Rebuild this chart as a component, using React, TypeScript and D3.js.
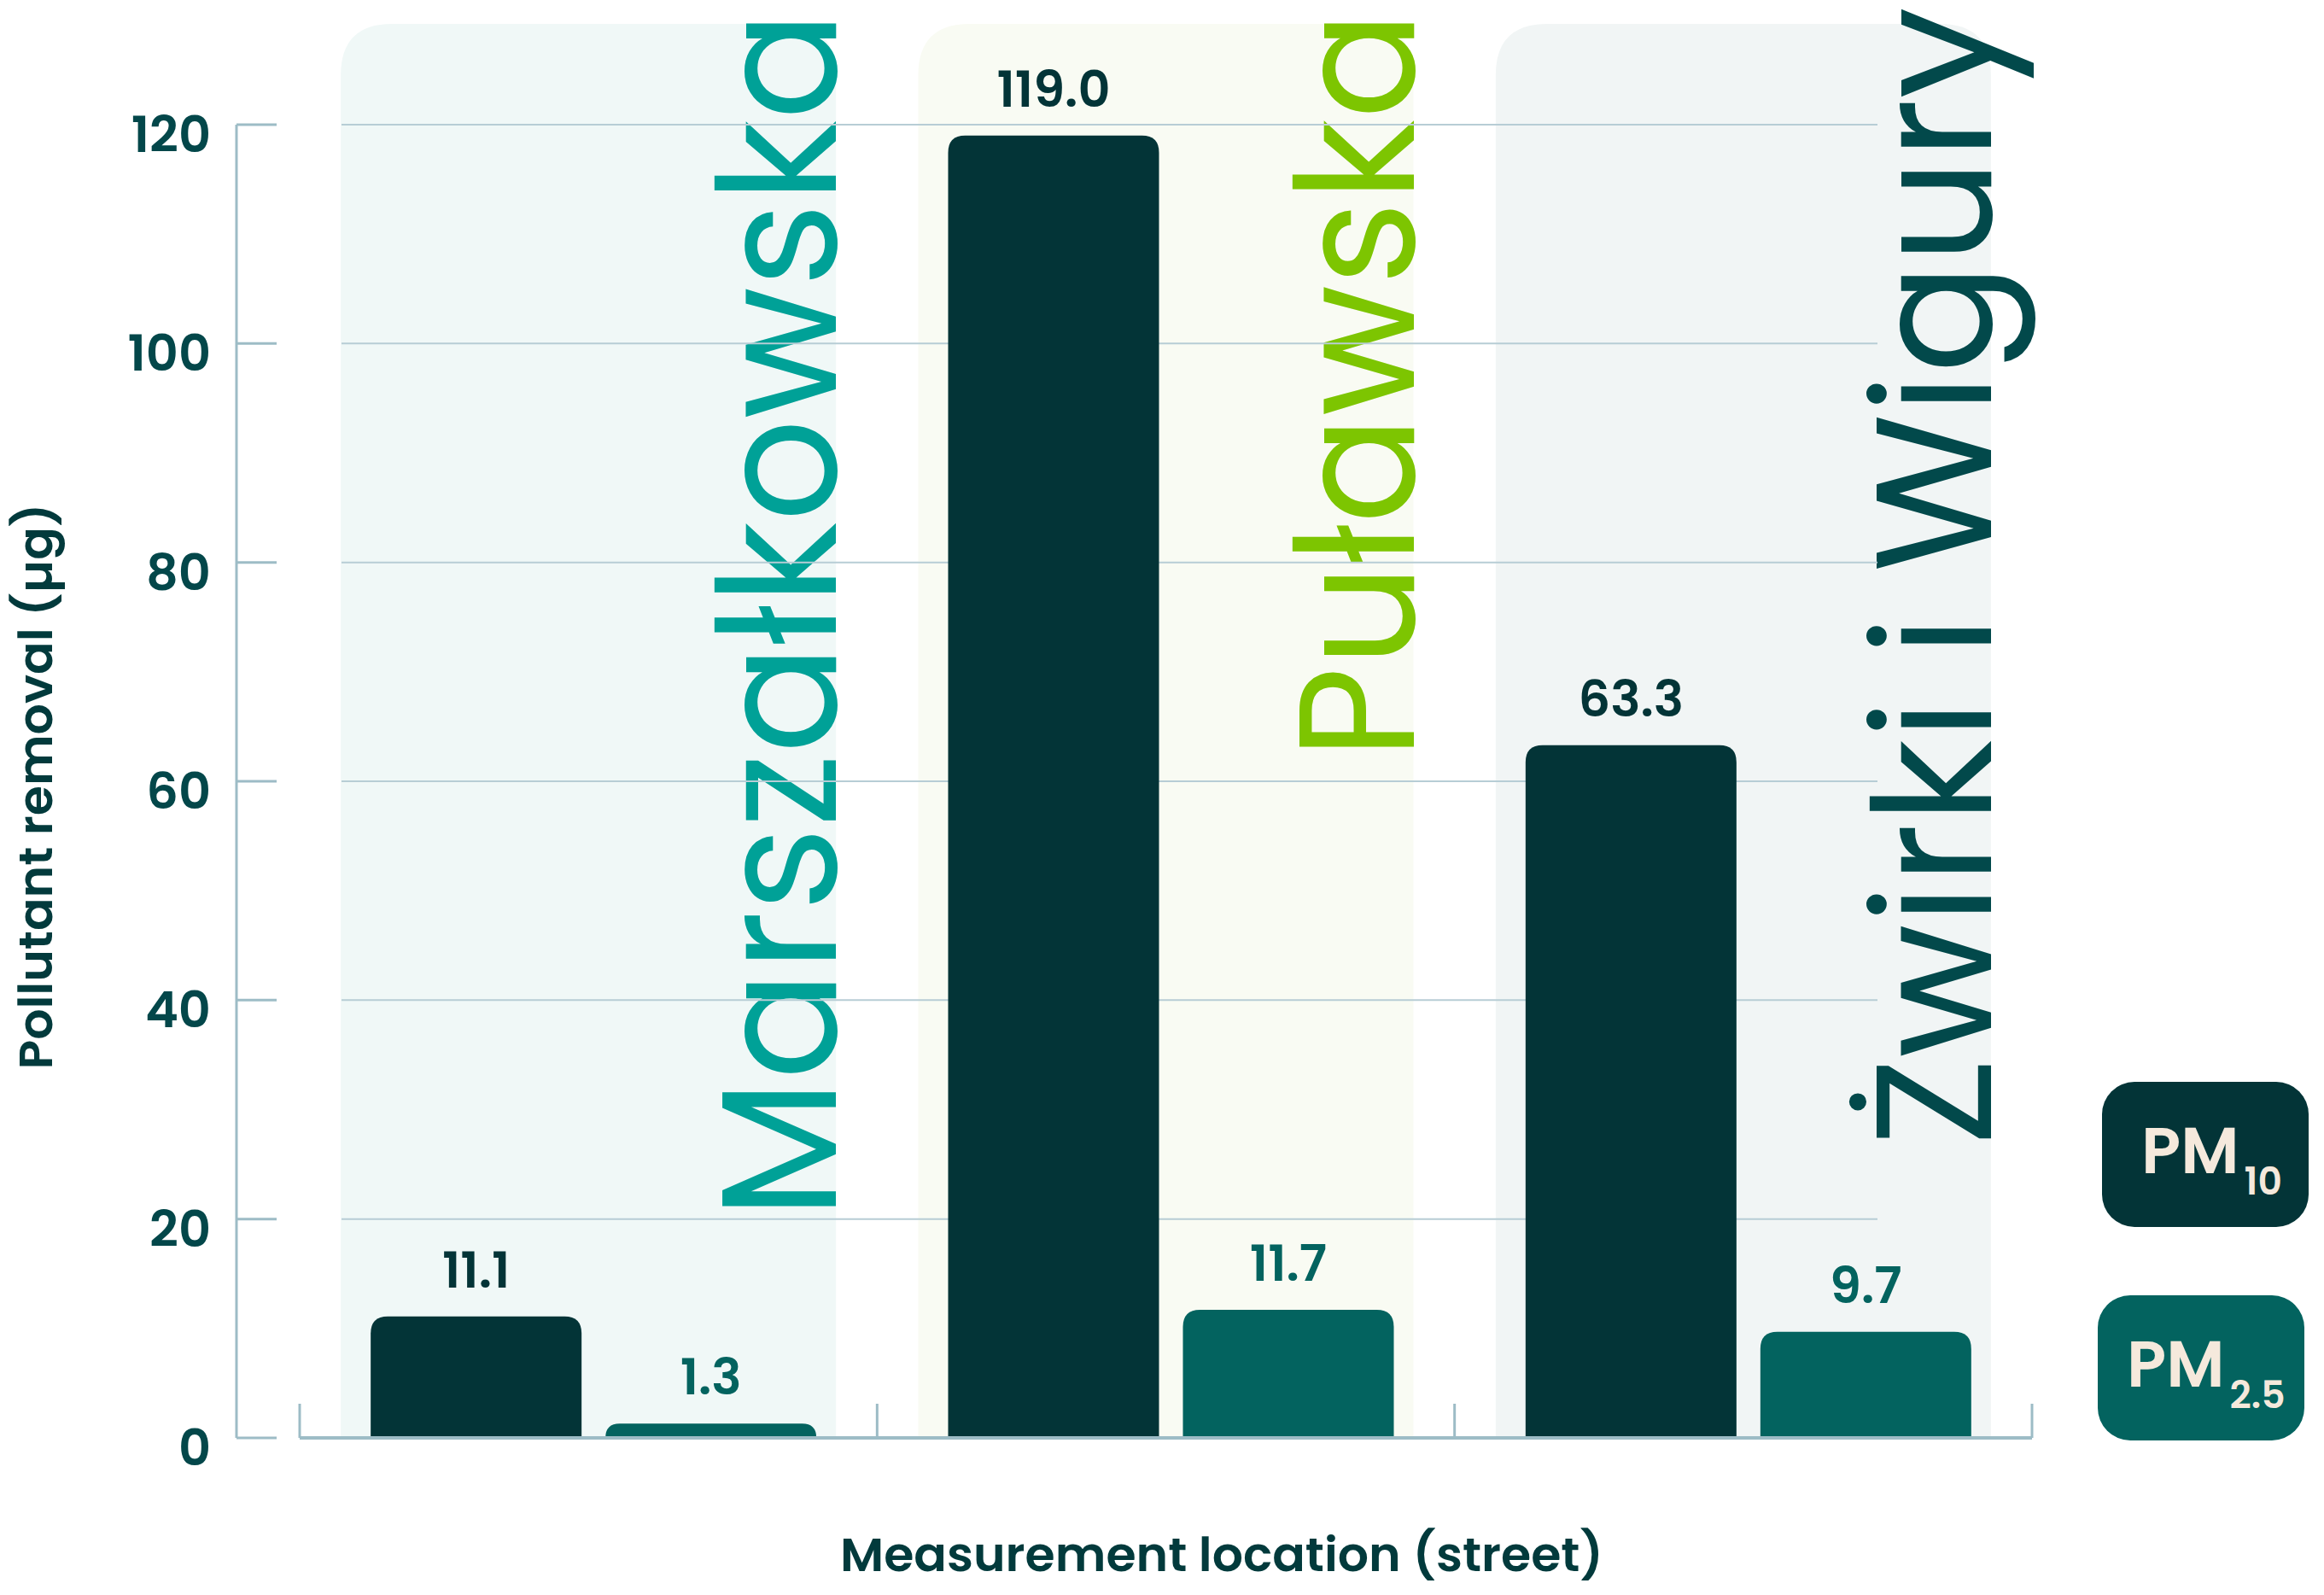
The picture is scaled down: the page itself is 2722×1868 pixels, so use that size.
import React from 'react';
import * as d3 from 'd3';

// ---- data ----
const streets = ['Marszałkowska', 'Puławska', 'Żwirki i Wigury'];
const seriesKeys = ['PM10', 'PM2.5'];
const pm10 = [11.1, 119.0, 63.3];
const pm25 = [1.3, 11.7, 9.7];
const yTicks = [0, 20, 40, 60, 80, 100, 120];
const legendMain = ['PM', 'PM'];
const legendSubs = ['10', '2.5'];
const xTitle = 'Measurement location (street)';
const yTitle = 'Pollutant removal (µg)';

// ---- styles ----
const streetColors = ['#00A197', '#7DC501', '#02494B'];
const panelColors = ['#F0F8F7', '#F9FBF3', '#F1F5F5'];
const seriesColors = ['#033437', '#03635F'];
const axisColor = '#9DBCC6';
const gridColor = '#B7CDD5';
const titleColor = '#023A3C';
const tickColor = '#03474A';
const legendText = '#F5E9DC';
const FONT = 'Poppins, Inter, "Open Sans", sans-serif';

// ---- layout ----
const W = 2722;
const H = 1868;
const plotTop = 146;
const plotBottom = 1684;
const axisLeft = 351;
const axisRight = 2380;
const panelW = 580;
const panelTop = 28;
const groupW = 522;
const groupShift = 6;
const nameStartY = [1427, 889, 1342];
const nameLen = [1414, 876, 1334];

function topRounded(x: number, y: number, w: number, h: number, r: number) {
  const rr = Math.min(r, h, w / 2);
  return `M${x},${y + h}V${y + rr}Q${x},${y} ${x + rr},${y}H${x + w - rr}Q${x + w},${y} ${x + w},${y + rr}V${y + h}Z`;
}

export default function App() {
  const y = d3.scaleLinear().domain([0, 120]).range([plotBottom, plotTop]);
  const x = d3.scaleBand<string>().domain(streets).range([axisLeft, axisRight]);
  const sub = d3.scaleBand<string>().domain(seriesKeys).range([0, groupW]).paddingInner(28 / 275);
  const bw = x.bandwidth();
  const values = [pm10, pm25];
  const xTickPos = [...streets.map((s) => x(s) as number), axisRight];

  return (
    <svg width={W} height={H} style={{ position: 'absolute', left: 0, top: 0, background: '#fff' }} fontFamily={FONT}>
      {/* panels */}
      {streets.map((s, i) => {
        const cx = (x(s) as number) + bw / 2;
        return (
          <path key={'p' + i} d={topRounded(cx - panelW / 2, panelTop, panelW, plotBottom - panelTop, 60)} fill={panelColors[i]} />
        );
      })}
      {/* street names */}
      {streets.map((s, i) => {
        const cx = (x(s) as number) + bw / 2;
        const bx = cx + panelW / 2;
        return (
          <text
            key={'n' + i}
            transform={`translate(${bx},${nameStartY[i]}) rotate(-90)`}
            fontSize={192}
            fontWeight={400}
            fill={streetColors[i]}
            textLength={nameLen[i]}
            lengthAdjust="spacingAndGlyphs"
          >
            {s}
          </text>
        );
      })}
      {/* grid */}
      {yTicks.filter((t) => t > 0).map((t) => (
        <line key={'g' + t} x1={400} x2={2199} y1={y(t)} y2={y(t)} stroke={gridColor} strokeWidth={2} />
      ))}
      {/* bars */}
      {streets.map((s, i) => {
        const gx = (x(s) as number) + bw / 2 - groupW / 2 + groupShift;
        return seriesKeys.map((k, j) => {
          const v = values[j][i];
          const bx = gx + (sub(k) as number);
          const bwid = sub.bandwidth();
          return (
            <g key={'b' + i + j}>
              <path d={topRounded(bx, y(v), bwid, plotBottom - y(v), 20)} fill={seriesColors[j]} />
              <text
                x={bx + bwid / 2}
                y={y(v) - 34}
                textAnchor="middle"
                fontSize={59}
                fontWeight={600}
                fill={seriesColors[j]}
              >
                {v.toFixed(1)}
              </text>
            </g>
          );
        });
      })}
      {/* y axis */}
      <line x1={277} x2={277} y1={y(120)} y2={y(0)} stroke={axisColor} strokeWidth={3} />
      {yTicks.map((t) => (
        <g key={'yt' + t}>
          <line x1={277} x2={324} y1={y(t)} y2={y(t)} stroke={axisColor} strokeWidth={3} />
          <text x={247} y={y(t) + 32} textAnchor="end" fontSize={59} fontWeight={600} fill={tickColor}>
            {t}
          </text>
        </g>
      ))}
      {/* x axis */}
      <line x1={axisLeft} x2={axisRight} y1={plotBottom} y2={plotBottom} stroke={axisColor} strokeWidth={4} />
      {xTickPos.map((px, i) => (
        <line key={'xt' + i} x1={px} x2={px} y1={plotBottom} y2={plotBottom - 40} stroke={axisColor} strokeWidth={3} />
      ))}
      {/* axis titles */}
      <text x={1431} y={1840} textAnchor="middle" fontSize={55} fontWeight={600} fill={titleColor} textLength={894} lengthAdjust="spacingAndGlyphs">
        {xTitle}
      </text>
      <text
        transform={`translate(61,921) rotate(-90)`}
        textAnchor="middle"
        fontSize={55}
        fontWeight={600}
        fill={titleColor}
        textLength={663}
        lengthAdjust="spacingAndGlyphs"
      >
        {yTitle}
      </text>
      {/* legend */}
      {seriesKeys.map((k, j) => {
        const bx = j === 0 ? 2462 : 2457;
        const by = j === 0 ? 1267 : 1517;
        return (
          <g key={'l' + j} transform={`translate(${bx},${by})`}>
            <rect width={242} height={170} rx={38} fill={seriesColors[j]} />
            <text x={j === 0 ? 46 : 34} y={107} fontSize={76} fontWeight={600} fill={legendText}>
              {legendMain[j]}
              <tspan fontSize={44} dx={6} dy={25}>
                {legendSubs[j]}
              </tspan>
            </text>
          </g>
        );
      })}
    </svg>
  );
}
